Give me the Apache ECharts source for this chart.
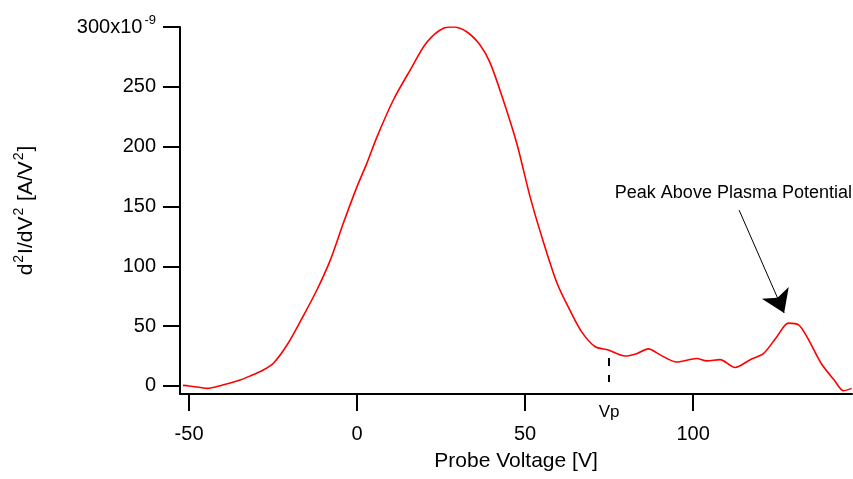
<!DOCTYPE html>
<html>
<head>
<meta charset="utf-8">
<script src="https://cdn.jsdelivr.net/npm/echarts@6/dist/echarts.min.js"></script>
<style>
html,body{margin:0;padding:0;background:#fff;}
#chart{width:853px;height:479px;}
</style>
</head>
<body>
<div id="chart"></div>
<script>
// Probe voltage [V]
const voltage = [-51.8, -50, -47, -44.6, -40, -34.8, -31.8, -27.9, -24.9, -20.9, -16.5, -12, -8, -4.1, -0.1, 2.9, 5.9, 10.8, 15.8, 20.7, 25.7, 28.7, 32.6, 36.6, 39.6, 43.5, 47.5, 51.5, 54.5, 59.5, 63.4, 66.9, 70.8, 74.8, 79.8, 83.2, 86.7, 90.2, 95.2, 101.1, 104.1, 108, 112.5, 117, 120.9, 124.9, 128.4, 131.4, 133.9, 138.1, 142, 144.8, 147.2];
// d2I/dV2 in units of 1e-9 A/V^2
const d2I = [0.5, 0, -1, -2, 0.8, 5, 8.4, 13.4, 19, 34, 56, 80, 105, 136, 166, 186, 208, 239, 264, 287, 299, 300, 296, 285, 270, 239, 203, 158, 129, 86, 63, 45, 33, 30, 25, 27, 31, 26, 20, 23, 21, 22, 15.5, 22, 27, 41, 52.5, 51, 41, 19, 5, -4, -2];
const xTicks = [-50, 0, 50, 100];
const yTicks = [0, 50, 100, 150, 200, 250, 300];
const plasmaPotential = 75;
const annotationText = 'Peak Above Plasma Potential';

const FONT = '"Liberation Sans", Arial, sans-serif';
const chart = echarts.init(document.getElementById('chart'), null, {renderer: 'canvas'});

const option = {
  animation: false,
  backgroundColor: '#fff',
  grid: {left: 180, right: 1, top: 27, bottom: 85},
  xAxis: {
    type: 'value',
    min: -52.7, max: 147.3,
    name: 'Probe Voltage [V]',
    nameLocation: 'middle',
    nameGap: 57,
    nameTextStyle: {fontSize: 21, color: '#000', fontFamily: FONT},
    axisLine: {show: true, onZero: false, lineStyle: {color: '#000', width: 2}},
    axisTick: {show: true, customValues: xTicks, length: 17, lineStyle: {color: '#000', width: 2}},
    axisLabel: {customValues: xTicks, margin: 30, fontSize: 20, color: '#000', fontFamily: FONT},
    splitLine: {show: false}
  },
  yAxis: {
    type: 'value',
    min: -6.7, max: 300,
    name: 'd{s|2}I/dV{s|2} [A/V{s|2}]',
    nameLocation: 'middle',
    nameGap: 140,
    nameRotate: 90,
    nameTextStyle: {
      fontSize: 21, color: '#000', fontFamily: FONT,
      rich: {s: {fontSize: 14, color: '#000', fontFamily: FONT, padding: [0, 1, 14, 1]}}
    },
    axisLine: {show: true, onZero: false, lineStyle: {color: '#000', width: 2}},
    axisTick: {show: true, customValues: yTicks, length: 17, lineStyle: {color: '#000', width: 2}},
    axisLabel: {
      customValues: yTicks, margin: 24, fontSize: 20, color: '#000', fontFamily: FONT,
      formatter: function (v) { return v === 300 ? '300x10{s|-9}' : String(v); },
      rich: {s: {fontSize: 13, color: '#000', fontFamily: FONT, padding: [0, 0, 14, 2]}}
    },
    splitLine: {show: false}
  },
  series: [
    {
      type: 'line',
      data: voltage.map((v, i) => [v, d2I[i]]),
      smooth: 0.3,
      showSymbol: false,
      lineStyle: {color: '#ff0000', width: 1.6},
      itemStyle: {color: '#ff0000'},
      markLine: {
        silent: true,
        animation: false,
        label: {show: false},
        data: [
          [
            {coord: [plasmaPotential, 23.4], symbol: 'none', lineStyle: {color: '#000', width: 2, type: [8, 9]}},
            {coord: [plasmaPotential, 3.3], symbol: 'none'}
          ],
          [
            {coord: [113.7, 147], symbol: 'none', lineStyle: {color: '#000', width: 1, type: 'solid'}},
            {coord: [127.1, 61], symbol: 'arrow', symbolSize: 22}
          ]
        ]
      }
    },
    {
      type: 'scatter',
      symbolSize: 0,
      silent: true,
      itemStyle: {opacity: 1, color: '#000'},
      data: [
        {value: [plasmaPotential, 0], label: {formatter: 'Vp', offset: [0, 26], color: '#000', fontSize: 17}},
        {value: [112.0, 161.3], label: {formatter: annotationText, fontSize: 18, color: '#000'}}
      ],
      label: {show: true, position: 'inside', color: '#000', fontSize: 17, fontFamily: FONT, textBorderWidth: 0}
    }
  ]
};
chart.setOption(option);
</script>
</body>
</html>
